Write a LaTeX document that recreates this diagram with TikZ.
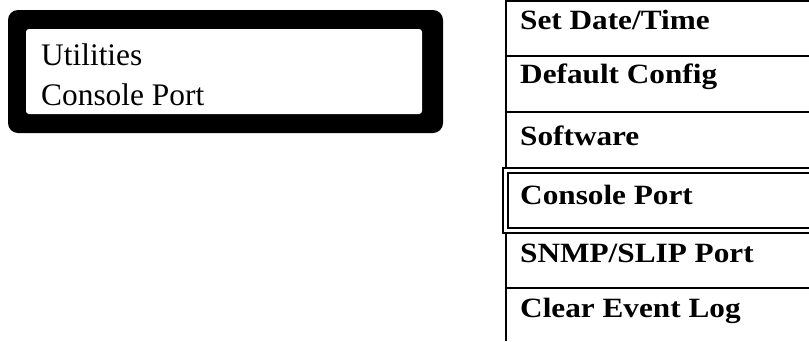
\documentclass[tikz,border=0pt]{standalone}
\usepackage{fontspec}
\setmainfont{Liberation Serif}
\newfontfamily\menufont[FakeStretch=1.12]{Liberation Serif}
\newfontfamily\lcdfont{Liberation Serif}
\usetikzlibrary{positioning}
\tikzset{
  lcdtext/.style={anchor=base west, inner sep=0pt, font=\lcdfont\fontsize{31.5}{38}\selectfont},
  item/.style={anchor=base west, inner sep=0pt, font=\menufont\fontsize{28}{34}\selectfont\bfseries},
  rule/.style={line width=2bp},
}

\begin{document}
\begin{tikzpicture}[x=1bp, y=-1bp]
    \useasboundingbox (0,0) rectangle (809,341);
    % display
    \fill[rounded corners=10bp] (8,10) rectangle (443,133);
    \fill[white, rounded corners=3bp] (26,29) rectangle (422,114);
    \node[lcdtext] (title) at (41,65.7) {Utilities};
    \node[lcdtext] (option) at (41,105) {Console Port};
    % menu
    \node[item] (setdate) at (520,29) {Set Date/Time};
    \node[item] (defconf) at (520,83) {Default Config};
    \node[item] (software) at (520,145) {Software};
    \node[item] (console) at (520,204) {Console Port};
    \node[item] (snmp) at (520,262) {SNMP/SLIP Port};
    \node[item] (clearlog) at (520,317) {Clear Event Log};
    \foreach \y in {1,56,112,288} { \draw[rule] (505,\y) -- (809,\y); }
    \draw[rule] (502,168) -- (809,168);
    \draw[rule] (502,233) -- (809,233);
    \draw[rule] (507,173) -- (809,173);
    \draw[rule] (507,228) -- (809,228);
    \draw[rule] (506,0) -- (506,168);
    \draw[rule] (506,233) -- (506,341);
    \draw[rule] (503,167) -- (503,234);
    \draw[rule] (508,172) -- (508,229);
  \end{tikzpicture}
\end{document}
